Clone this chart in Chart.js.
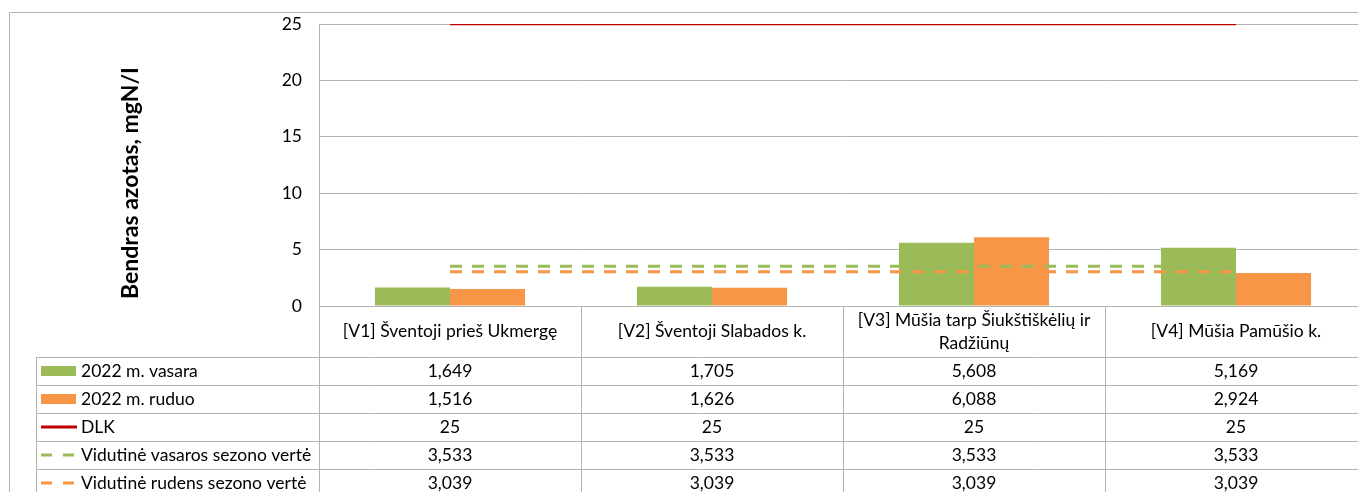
<!DOCTYPE html>
<html>
<head>
<meta charset="utf-8">
<script src="https://cdn.jsdelivr.net/npm/chart.js@4"></script>
<style>
  html, body { margin: 0; padding: 0; background: #fff; overflow: hidden; }
  #wrap { width: 1380px; height: 492px; }
</style>
</head>
<body>
<div id="wrap"><canvas id="chart" width="1380" height="492"></canvas></div>
<script>
const categories = [
    '[V1] Šventoji prieš Ukmergę',
    '[V2] Šventoji Slabados k.',
    ['[V3] Mūšia tarp Šiukštiškėlių ir', 'Radžiūnų'],
    '[V4] Mūšia Pamūšio k.'
];
const summer = [1.649, 1.705, 5.608, 5.169];
const autumn = [1.516, 1.626, 6.088, 2.924];
const dlk = [25, 25, 25, 25];
const avgSummer = [3.533, 3.533, 3.533, 3.533];
const avgAutumn = [3.039, 3.039, 3.039, 3.039];
const yTicks = [0, 5, 10, 15, 20, 25];
const yTitle = 'Bendras azotas, mgN/I';

const GREEN = '#9bbb59';
const ORANGE = '#f79646';
const RED = '#c00000';
const GRID = '#b4b4b4';
const FONT = 'Lato, "Open Sans", sans-serif';
const FSIZE = 17.5;

function fmt(v) {
    return Number.isInteger(v) ? String(v) : v.toFixed(3).replace('.', ',');
}

// draws the data table under the plot, the outer frame and the axis title
const tablePlugin = {
    id: 'dataTable',
    afterDraw(chart) {
        const ctx = chart.ctx;
        const x = chart.scales.x;
        const area = chart.chartArea;
        const half = (x.getPixelForValue(1) - x.getPixelForValue(0)) / 2;
        const left = x.getPixelForValue(0) - half;
        const right = x.getPixelForValue(categories.length - 1) + half;
        const headTop = area.bottom;
        const rowTop = 357;
        const rowH = 28;
        const legendLeft = 36;

        ctx.save();
        ctx.strokeStyle = GRID;
        ctx.lineWidth = 1;

        // outer chart frame
        ctx.beginPath();
        ctx.moveTo(9.5, 500);
        ctx.lineTo(9.5, 12.5);
        ctx.lineTo(1376.5, 12.5);
        ctx.lineTo(1376.5, 500);
        ctx.stroke();

        // column lines
        ctx.beginPath();
        for (let i = 0; i <= categories.length; i++) {
            const cx = Math.round(left + i * half * 2) + 0.5;
            ctx.moveTo(cx, headTop);
            ctx.lineTo(cx, 500);
        }
        ctx.moveTo(legendLeft + 0.5, rowTop);
        ctx.lineTo(legendLeft + 0.5, 500);
        for (let r = 0; r < 6; r++) {
            const ry = rowTop + r * rowH + 0.5;
            ctx.moveTo(legendLeft, ry);
            ctx.lineTo(right, ry);
        }
        ctx.stroke();

        // header labels
        ctx.fillStyle = '#000';
        ctx.font = FSIZE + 'px ' + FONT;
        ctx.textAlign = 'center';
        ctx.textBaseline = 'middle';
        const headMid = (headTop + rowTop) / 2;
        categories.forEach((c, i) => {
            const cx = x.getPixelForValue(i);
            const lines = Array.isArray(c) ? c : [c];
            lines.forEach((t, j) => {
                ctx.fillText(t, cx, headMid + (j - (lines.length - 1) / 2) * 23);
            });
        });

        // rows: legend key + values
        const rows = chart.data.datasets.slice().sort((a, b) => a.row - b.row);
        rows.forEach((ds, r) => {
            const cy = rowTop + r * rowH + rowH / 2;
            if (ds.type === 'bar') {
                ctx.fillStyle = ds.backgroundColor;
                ctx.fillRect(41, cy - 5, 35, 10);
            } else {
                ctx.strokeStyle = ds.borderColor;
                ctx.lineWidth = 3;
                ctx.setLineDash(ds.borderDash ? [11, 11] : []);
                ctx.beginPath();
                ctx.moveTo(41, cy);
                ctx.lineTo(77, cy);
                ctx.stroke();
                ctx.setLineDash([]);
            }
            ctx.fillStyle = '#000';
            ctx.textAlign = 'left';
            ctx.fillText(ds.label, 81, cy);
            ctx.textAlign = 'center';
            ds.data.forEach((v, i) => {
                ctx.fillText(fmt(v), x.getPixelForValue(i), cy);
            });
        });

        // y axis title
        ctx.translate(131, 183);
        ctx.rotate(-Math.PI / 2);
        ctx.font = 'bold 23px ' + FONT;
        ctx.fillText(yTitle, 0, 0);
        ctx.restore();
    }
};

new Chart(document.getElementById('chart'), {
    type: 'bar',
    data: {
        labels: categories,
        datasets: [
            { type: 'bar', label: '2022 m. vasara', data: summer, backgroundColor: GREEN, order: 2, row: 0 },
            { type: 'bar', label: '2022 m. ruduo', data: autumn, backgroundColor: ORANGE, order: 2, row: 1 },
            { type: 'line', label: 'DLK', data: dlk, borderColor: RED, borderWidth: 2.5, pointRadius: 0, order: 1, row: 2 },
            { type: 'line', label: 'Vidutinė vasaros sezono vertė', data: avgSummer, borderColor: GREEN, borderWidth: 3, borderDash: [12, 10], pointRadius: 0, order: 0, row: 3 },
            { type: 'line', label: 'Vidutinė rudens sezono vertė', data: avgAutumn, borderColor: ORANGE, borderWidth: 3, borderDash: [12, 10], pointRadius: 0, order: 0, row: 4 }
        ]
    },
    options: {
        responsive: false,
        animation: false,
        layout: { padding: { top: 24, right: 13, bottom: 0, left: 0 } },
        datasets: { bar: { categoryPercentage: 0.573, barPercentage: 1.0 } },
        plugins: { legend: { display: false }, tooltip: { enabled: false } },
        scales: {
            x: {
                offset: true,
                grid: { display: false },
                border: { color: GRID },
                ticks: { display: false },
                afterFit(scale) { scale.height = 186; }
            },
            y: {
                min: 0,
                max: 25,
                afterBuildTicks(scale) { scale.ticks = yTicks.map(v => ({ value: v })); },
                grid: { color: GRID, drawTicks: false },
                border: { color: GRID },
                ticks: { color: '#000', padding: 17, font: { family: FONT, size: FSIZE } },
                afterFit(scale) {
                    scale.width = 319;
                    scale.paddingTop = 0;
                    scale.paddingBottom = 0;
                }
            }
        }
    },
    plugins: [tablePlugin]
});
</script>
</body>
</html>
